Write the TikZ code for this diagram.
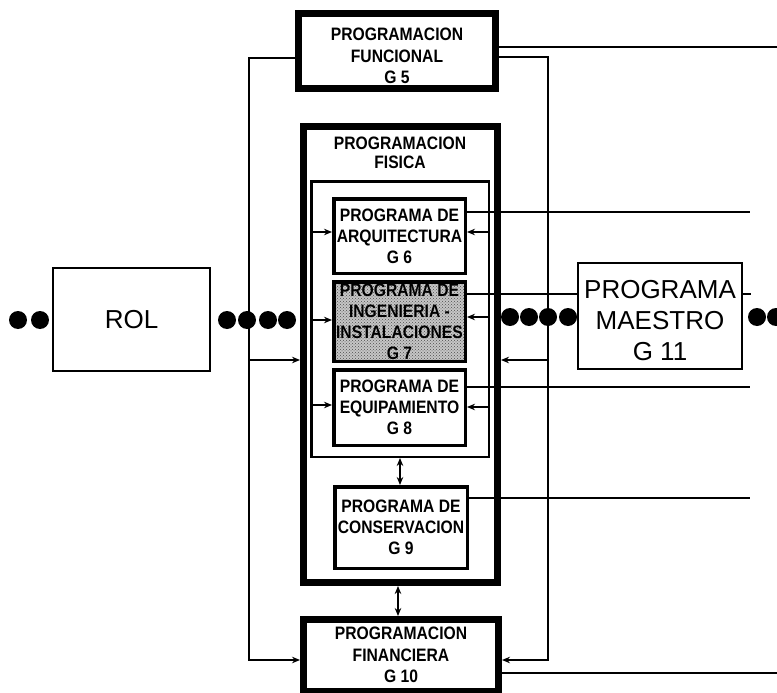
\documentclass[tikz,border=0pt]{standalone}
\usepackage{fontspec}
\setmainfont{Liberation Sans}
\newfontfamily\narrowsans[FakeStretch=0.87]{Liberation Sans}
\usetikzlibrary{arrows.meta,patterns}

\tikzset{
  x=1pt, y=-1pt,
  boxfont/.style={font=\narrowsans\bfseries\fontsize{18}{21.5}\selectfont},
  heavybox/.style={draw, line width=7pt, fill=white, inner sep=0pt, align=center, boxfont},
  subbox/.style={draw, line width=3.5pt, fill=white, inner sep=0pt, align=center,
    font=\narrowsans\bfseries\fontsize{18}{21}\selectfont},
  holder/.style={draw, line width=2.5pt, inner sep=0pt},
  plainbox/.style={draw, line width=2pt, fill=white, inner sep=0pt, align=center,
    font=\fontsize{26}{31}\selectfont},
  blob/.style={circle, fill=black, inner sep=0pt, minimum size=18pt},
  conn/.style={line width=2pt},
  tip/.style={-{Stealth[length=8pt,width=6.5pt]}},
  twotip/.style={{Stealth[length=8pt,width=6.5pt]}-{Stealth[length=8pt,width=6.5pt]}},
}

\begin{document}
\begin{tikzpicture}
\useasboundingbox[fill=white] (0,0) rectangle (777,693);

% rails and free ends
\coordinate (lrail) at (249,0);
\coordinate (rrail) at (548,0);
\coordinate (e5) at (777,47);
\coordinate (e10) at (777,673);
\coordinate (e6) at (750,212);
\coordinate (e7) at (750,294);
\coordinate (e8) at (750,387);
\coordinate (e9) at (750,498);

% main boxes
\node[heavybox, minimum width=197pt, minimum height=75pt] (g5) at (397,51) {};
\node[boxfont, align=center, inner sep=0pt] (g5txt) at (397,56)
  {PROGRAMACION\\FUNCIONAL\\G 5};
\node[heavybox, minimum width=194pt, minimum height=456pt] (phys) at (400.5,354.5) {};
\node[font=\narrowsans\bfseries\fontsize{18}{19}\selectfont, align=center, inner sep=0pt]
  (physlbl) at (400,153) {PROGRAMACION\\FISICA};
\node[holder, minimum width=177.5pt, minimum height=275.5pt] (inner) at (400,319) {};
\node[subbox, minimum width=131.5pt, minimum height=74.5pt] (g6) at (399.5,236)
  {PROGRAMA DE\\ARQUITECTURA\\G 6};
\node[subbox, fill=none, preaction={fill=gray!45}, pattern=crosshatch dots,
  pattern color=black!70, minimum width=131.5pt, minimum height=79.5pt] (g7) at (399.5,321.5)
  {PROGRAMA DE\\INGENIERIA -\\INSTALACIONES\\G 7};
\node[subbox, minimum width=131.5pt, minimum height=75.5pt] (g8) at (399.5,407.5)
  {PROGRAMA DE\\EQUIPAMIENTO\\G 8};
\node[subbox, minimum width=132.5pt, minimum height=81.5pt] (g9) at (401,527.5)
  {PROGRAMA DE\\CONSERVACION\\G 9};
\node[heavybox, minimum width=195pt, minimum height=72pt] (g10) at (401,655.5) {};
\node[boxfont, align=center, inner sep=0pt] (g10txt) at (401,655)
  {PROGRAMACION\\FINANCIERA\\G 10};

% loop from G5 round to G10 on both sides
\draw[conn, tip] (g5.west |- 0,58) -| (lrail |- 0,660) -- (g10.west |- 0,660);
\draw[conn, tip] (g5.east |- 0,57) -| (rrail |- 0,660) -- (g10.east |- 0,660);
\draw[conn] (g5.east |- 0,47) -- (e5);
\draw[conn] (g10.east |- 0,673) -- (e10);

% rails into the physical programming block
\draw[conn, tip] (lrail |- 0,360) -- (phys.west |- 0,360);
\draw[conn, tip] (rrail |- 0,360) -- (phys.east |- 0,360);

% inputs to the sub-programmes
\draw[conn, tip] (inner.west |- 0,232) -- (g6.west |- 0,232);
\draw[conn, tip] (inner.west |- 0,320) -- (g7.west |- 0,320);
\draw[conn, tip] (inner.west |- 0,405) -- (g8.west |- 0,405);
\draw[conn, tip] (inner.east |- 0,232) -- (g6.east |- 0,232);
\draw[conn, tip] (inner.east |- 0,317) -- (g7.east |- 0,317);
\draw[conn, tip] (inner.east |- 0,407) -- (g8.east |- 0,407);

% outputs to the right
\draw[conn] (g6.east |- 0,212) -- (e6);
\draw[conn] (g7.east |- 0,294) -- (e7);
\draw[conn] (g8.east |- 0,387) -- (e8);
\draw[conn] (g9.east |- 0,498) -- (e9);

% vertical exchanges
\draw[conn, twotip] (inner.south) -- (inner.south |- g9.north);
\draw[conn, twotip] ([xshift=-2.5pt]phys.south) -- ([xshift=-2.5pt]phys.south |- g10.north);

% side boxes
\node[plainbox, minimum width=157pt, minimum height=103pt] (rol) at (131.5,319.5) {ROL};
\node[plainbox, minimum width=164pt, minimum height=106pt] (pm) at (660,316) {};
\node[font=\fontsize{26}{31}\selectfont, align=center, inner sep=0pt] (pmtxt) at (660,321)
  {PROGRAMA\\MAESTRO\\G 11};
\coordinate (pmstub) at (751,294);
\draw[conn] (pm.east |- 0,294) -- (pmstub);

% chains of dots
\foreach \x [count=\i] in {18,40} \node[blob] (la\i) at (\x,320) {};
\foreach \x [count=\i] in {227,247,268,287} \node[blob] (lb\i) at (\x,320) {};
\foreach \x [count=\i] in {510,529,548,568} \node[blob] (rb\i) at (\x,317) {};
\foreach \x [count=\i] in {757,776} \node[blob] (ra\i) at (\x,317) {};
\end{tikzpicture}
\end{document}
